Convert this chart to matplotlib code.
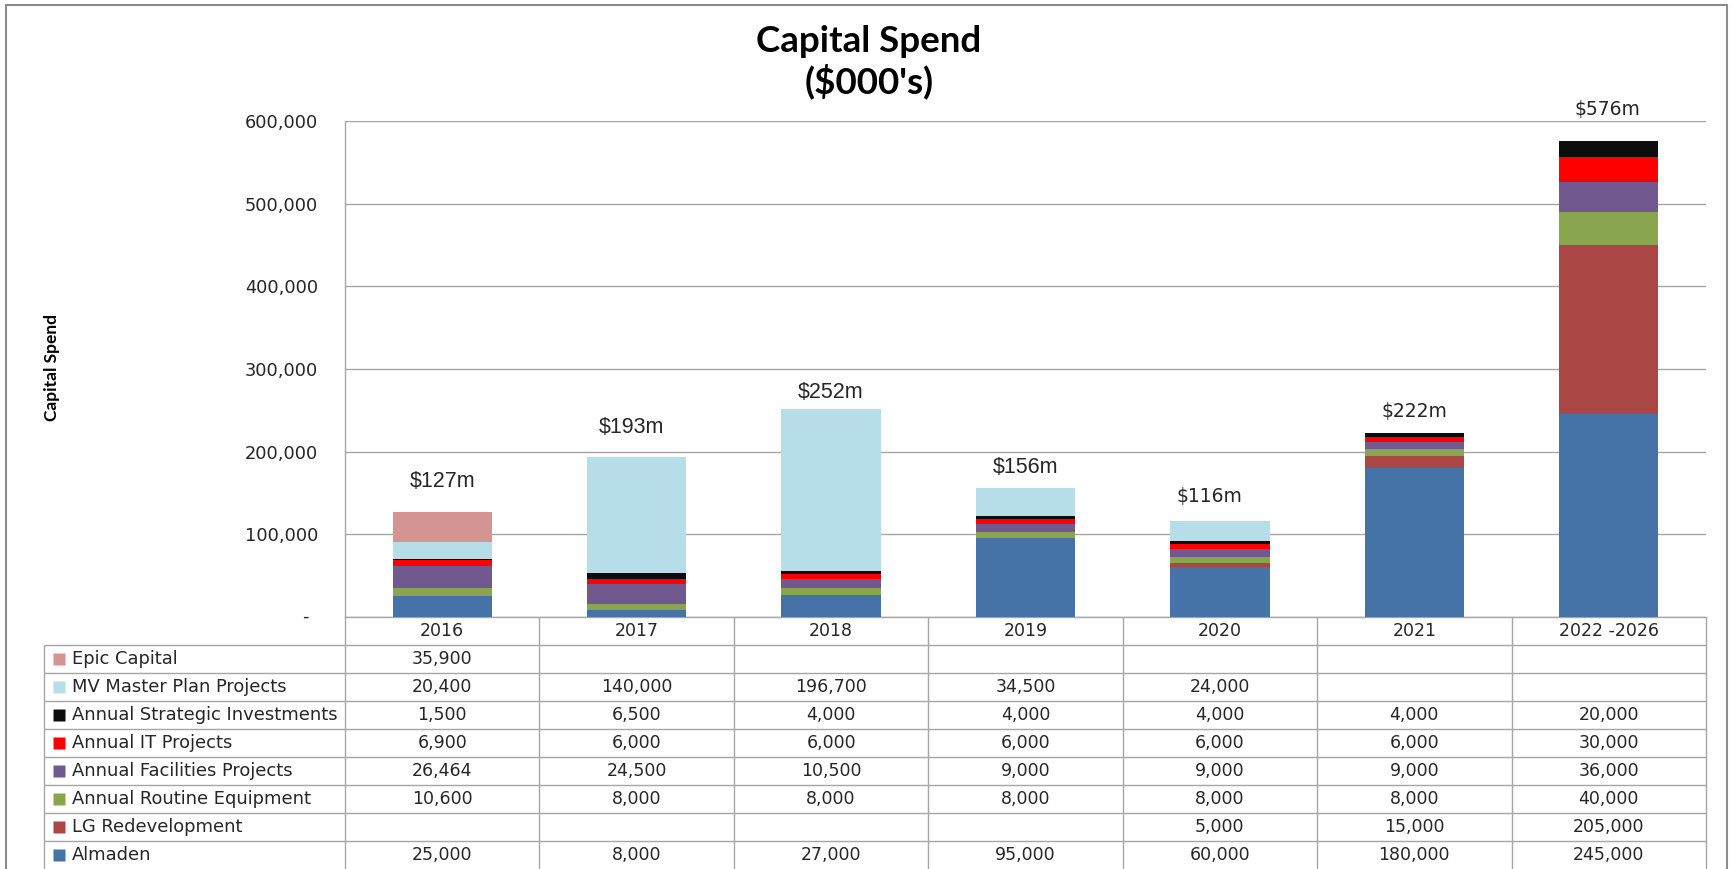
import matplotlib
matplotlib.use("Agg")
import matplotlib.pyplot as plt
from matplotlib.patches import Rectangle
from matplotlib.ticker import FuncFormatter

plt.rcParams['font.family'] = ['DejaVu Sans']

# ---- data ($000's) -------------------------------------------------------
categories = ['2016', '2017', '2018', '2019', '2020', '2021', '2022 -2026']

almaden = [25000, 8000, 27000, 95000, 60000, 180000, 245000]
lg_redevelopment = [0, 0, 0, 0, 5000, 15000, 205000]
routine_equipment = [10600, 8000, 8000, 8000, 8000, 8000, 40000]
facilities_projects = [26464, 24500, 10500, 9000, 9000, 9000, 36000]
it_projects = [6900, 6000, 6000, 6000, 6000, 6000, 30000]
strategic_investments = [1500, 6500, 4000, 4000, 4000, 4000, 20000]
mv_master_plan = [20400, 140000, 196700, 34500, 24000, 0, 0]
epic_capital = [35900, 0, 0, 0, 0, 0, 0]

# stacking order, bottom to top
series_names = ['Almaden', 'LG Redevelopment', 'Annual Routine Equipment',
                'Annual Facilities Projects', 'Annual IT Projects',
                'Annual Strategic Investments', 'MV Master Plan Projects',
                'Epic Capital']
series_values = [almaden, lg_redevelopment, routine_equipment,
                 facilities_projects, it_projects, strategic_investments,
                 mv_master_plan, epic_capital]
series_colors = ['#4572A7', '#AA4643', '#89A54E', '#71588F', '#FF0000',
                 '#0D0D0D', '#B7DDE8', '#D39493']

# ---- layout (pixels) -----------------------------------------------------
W, H = 1733, 869
PL, PR, PT, PB = 345, 1706, 121, 617
TBL_LEFT = 44
N_ROWS = len(series_names) + 1
GRID_GRAY = '#A6A6A6'
TEXT_COLOR = '#262626'

fig = plt.figure(figsize=(W / 100, H / 100), dpi=100)

ax = fig.add_axes([PL / W, 1 - PB / H, (PR - PL) / W, (PB - PT) / H])
x = list(range(len(categories)))
bottoms = [0] * len(categories)
for vals, color, name in zip(series_values, series_colors, series_names):
    ax.bar(x, vals, width=0.51, bottom=bottoms, color=color, label=name,
           linewidth=0, zorder=3)
    bottoms = [b + v for b, v in zip(bottoms, vals)]
totals = bottoms

ax.set_xlim(-0.5, len(categories) - 0.5)
ax.set_ylim(0, 600000)
ax.set_yticks(range(0, 600001, 100000))
ax.yaxis.set_major_formatter(FuncFormatter(lambda v, p: '' if v == 0 else f'{v:,.0f}'))
ax.tick_params(axis='y', length=0, pad=19.5, labelsize=12.8, labelcolor=TEXT_COLOR)
ax.set_xticks([])
ax.yaxis.grid(True, color=GRID_GRAY, linewidth=1.0, zorder=0)
ax.set_axisbelow(True)
for side in ('top', 'right'):
    ax.spines[side].set_visible(False)
for side in ('left', 'bottom'):
    ax.spines[side].set_color(GRID_GRAY)
    ax.spines[side].set_linewidth(1.0)
ax.annotate('-', xy=(0, 0), xycoords=('axes fraction', 'data'),
            xytext=(-28.8, 0), textcoords='offset points',
            ha='center', va='center', fontsize=12.8, color=TEXT_COLOR,
            annotation_clip=False)

# total labels above each stack
label_offsets = [(0, 22.3), (-3.6, 21.6), (0, 11.5), (0, 14.4),
                 (-7.2, 18.0), (0, 15.8), (-0.7, 22.3)]
label_fonts = [(['Liberation Sans', 'DejaVu Sans'], 15.5)] * 4 + \
              [(['DejaVu Sans'], 13.5)] * 3
for i, total in enumerate(totals):
    fam, size = label_fonts[i]
    ax.annotate(f'${round(total / 1000)}m', xy=(i, total),
                xytext=label_offsets[i], textcoords='offset points',
                ha='center', va='center', family=fam, fontsize=size,
                color=TEXT_COLOR, annotation_clip=False)

# ---- data table under the chart --------------------------------------------
tax = fig.add_axes([PL / W, 0, (PR - PL) / W, (H - PB) / H])
tax.set_xlim(-0.5, len(categories) - 0.5)
tax.set_ylim(N_ROWS, 0)
tax.axis('off')
col_px = (PR - PL) / len(categories)


def px_to_col(px):
    return -0.5 + (px - PL) / col_px


left_edge = px_to_col(TBL_LEFT)
for r in range(1, N_ROWS):
    tax.plot([left_edge, len(categories) - 0.5], [r, r], color=GRID_GRAY,
             lw=1.0, clip_on=False, solid_capstyle='butt')
for k in range(len(categories) + 1):
    tax.plot([k - 0.5, k - 0.5], [0, N_ROWS], color=GRID_GRAY, lw=1.0,
             clip_on=False, solid_capstyle='butt')
tax.plot([left_edge, left_edge], [1, N_ROWS], color=GRID_GRAY, lw=1.0,
         clip_on=False, solid_capstyle='butt')

for i, cat in enumerate(categories):
    tax.text(i, 0.5, cat, ha='center', va='center', fontsize=12.5,
             color=TEXT_COLOR, clip_on=False)

table_rows = list(zip(series_names, series_values, series_colors))[::-1]
for r, (name, vals, color) in enumerate(table_rows, start=1):
    yc = r + 0.5
    tax.plot(px_to_col(59), yc, marker='s', ms=8.6, color=color, mec='none',
             clip_on=False)
    tax.text(px_to_col(72), yc, name, ha='left', va='center', fontsize=12.9,
             color=TEXT_COLOR, clip_on=False)
    for i, v in enumerate(vals):
        if v:
            tax.text(i, yc, f'{v:,}', ha='center', va='center', fontsize=12.5,
                     color=TEXT_COLOR, clip_on=False)

# ---- titles and frame ------------------------------------------------------
title_font = ['Lato', 'DejaVu Sans']
fig.text(869 / W, 1 - 52 / H, 'Capital Spend', family=title_font,
         weight='bold', fontsize=26.5, ha='center', va='baseline', color='black')
fig.text(869 / W, 1 - 93 / H, "($000's)", family=title_font,
         weight='bold', fontsize=26.5, ha='center', va='baseline', color='black')
fig.text(52 / W, 1 - 368 / H, 'Capital Spend', family=title_font,
         weight='bold', fontsize=12.5, rotation=90, ha='center', va='center',
         color='black')

fig.add_artist(Rectangle((6 / W, -0.1), (1727 - 6) / W, 1.1 - 5 / H,
                         transform=fig.transFigure, fill=False,
                         edgecolor='#8C8C8C', linewidth=1.5))

fig.savefig('out.png', dpi=100, facecolor='white')
